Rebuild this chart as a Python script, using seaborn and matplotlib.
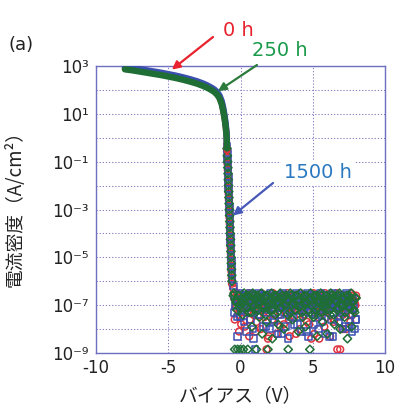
import numpy as np
import pandas as pd
import matplotlib
matplotlib.use("Agg")
import matplotlib.pyplot as plt
from matplotlib.ticker import FixedLocator, FuncFormatter, NullFormatter
import seaborn as sns

# ---------------- data (log10 of current density, A/cm^2) ----------------
SERIES = ["0 h", "250 h", "1500 h"]

X_CURVE = [-8.0, -7.5, -7.0, -6.5, -6.0, -5.5, -5.0, -4.5, -4.0, -3.5,
           -3.0, -2.6, -2.3, -2.0, -1.8, -1.6, -1.45, -1.3, -1.2, -1.1,
           -1.02, -0.96,
           -0.93, -0.91, -0.89, -0.875, -0.86, -0.845, -0.83, -0.815, -0.80, -0.785,
           -0.77, -0.755, -0.74, -0.725, -0.71, -0.695, -0.68, -0.665, -0.65, -0.635,
           -0.62, -0.605, -0.59]
N_SMOOTH = 23  # points drawn as the continuous band

LOGJ_CURVE_0H = [2.90, 2.86, 2.81, 2.76, 2.71, 2.66, 2.60, 2.54, 2.47, 2.39,
                 2.30, 2.21, 2.13, 2.03, 1.95, 1.83, 1.69, 1.45, 1.17, 0.83,
                 0.47, 0.07,
                 -0.55, -0.85, -1.1, -1.35, -1.6, -1.85, -2.1, -2.35, -2.6, -2.85,
                 -3.1, -3.35, -3.6, -3.85, -4.1, -4.35, -4.6, -4.85, -5.1, -5.35,
                 -5.6, -5.85, -6.1]
LOGJ_CURVE_250H = [2.86, 2.82, 2.77, 2.72, 2.67, 2.62, 2.56, 2.50, 2.43, 2.35,
                   2.26, 2.17, 2.09, 1.99, 1.91, 1.79, 1.65, 1.41, 1.13, 0.79,
                   0.43, 0.03,
                   -0.45, -0.75, -1.0, -1.25, -1.5, -1.75, -2.0, -2.25, -2.5, -2.75,
                   -3.0, -3.25, -3.5, -3.75, -4.0, -4.25, -4.5, -4.75, -5.0, -5.25,
                   -5.5, -5.75, -6.0]
LOGJ_CURVE_1500H = [2.95, 2.91, 2.87, 2.82, 2.77, 2.72, 2.66, 2.60, 2.53, 2.45,
                    2.36, 2.27, 2.19, 2.09, 2.01, 1.90, 1.76, 1.53, 1.26, 0.92,
                    0.56, 0.16,
                    -0.35, -0.65, -0.9, -1.15, -1.4, -1.65, -1.9, -2.15, -2.4, -2.65,
                    -2.9, -3.15, -3.4, -3.65, -3.9, -4.15, -4.4, -4.65, -4.9, -5.15,
                    -5.4, -5.65, -5.9]

# noise floor, sweep A (whole tenths of a volt)
X_FLOOR_A = [-0.5, -0.4, -0.3, -0.2, -0.1, 0.0, 0.1, 0.2, 0.3, 0.4,
             0.5, 0.6, 0.7, 0.8, 0.9, 1.0, 1.1, 1.2, 1.3, 1.4,
             1.5, 1.6, 1.7, 1.8, 1.9, 2.0, 2.1, 2.2, 2.3, 2.4,
             2.5, 2.6, 2.7, 2.8, 2.9, 3.0, 3.1, 3.2, 3.3, 3.4,
             3.5, 3.6, 3.7, 3.8, 3.9, 4.0, 4.1, 4.2, 4.3, 4.4,
             4.5, 4.6, 4.7, 4.8, 4.9, 5.0, 5.1, 5.2, 5.3, 5.4,
             5.5, 5.6, 5.7, 5.8, 5.9, 6.0, 6.1, 6.2, 6.3, 6.4,
             6.5, 6.6, 6.7, 6.8, 6.9, 7.0, 7.1, 7.2, 7.3, 7.4,
             7.5, 7.6, 7.7, 7.8, 7.9, 8.0]

LOGJ_FLOOR_A_0H = [-6.3, -7.6, -7.0, -6.7, -8.1, -6.9, -7.3, -6.6, -7.9, -7.1,
                   -6.7, -8.3, -7.0, -6.6, -7.4, -6.8, -7.7, -6.6, -7.2, -8.0,
                   -6.9, -7.3, -6.6, -8.85, -8.4, -7.0, -6.7, -7.6, -7.1, -6.6,
                   -8.2, -6.9, -7.4, -6.7, -7.1, -7.8, -6.6, -7.3, -6.9, -8.3,
                   -7.0, -6.7, -7.5, -6.6, -7.2, -6.8, -8.0, -7.1, -6.6, -7.4,
                   -6.9, -7.7, -6.7, -7.0, -8.4, -6.8, -8.2, -7.2, -6.6, -7.5,
                   -6.9, -7.1, -6.7, -7.9, -6.6, -7.3, -6.8, -8.3, -7.0, -6.6,
                   -7.6, -6.9, -8.85, -7.2, -8.85, -6.7, -7.4, -6.6, -8.0, -7.1,
                   -6.8, -7.7, -6.6, -7.2, -6.9, -6.6]
LOGJ_FLOOR_A_250H = [-6.6, -8.85, -6.9, -8.85, -7.1, -8.85, -6.7, -8.85, -7.0, -6.6,
                     -8.85, -7.3, -6.8, -7.9, -6.6, -7.2, -8.85, -6.9, -7.5, -6.7,
                     -8.2, -7.0, -6.6, -7.7, -8.85, -6.8, -7.2, -8.4, -6.6, -7.4,
                     -6.9, -7.8, -6.7, -7.1, -6.6, -8.0, -7.0, -6.8, -8.85, -7.3,
                     -6.6, -7.6, -6.9, -7.2, -6.6, -8.1, -6.8, -7.0, -7.5, -6.6,
                     -7.9, -6.9, -7.2, -8.85, -6.7, -7.4, -6.6, -7.0, -8.3, -6.8,
                     -7.3, -6.6, -7.7, -6.9, -7.1, -8.2, -6.7, -7.4, -6.6, -7.0,
                     -7.8, -6.8, -7.2, -6.6, -8.0, -7.0, -6.7, -7.5, -6.9, -8.4,
                     -6.6, -7.1, -7.9, -6.8, -7.3, -6.7]
LOGJ_FLOOR_A_1500H = [-6.2, -7.3, -6.8, -8.3, -6.6, -7.5, -6.9, -7.1, -6.6, -8.1,
                      -7.0, -6.7, -7.6, -6.6, -8.4, -8.85, -7.2, -6.8, -7.4, -6.6,
                      -7.0, -7.9, -6.7, -7.3, -6.6, -8.0, -6.9, -7.1, -7.7, -6.6,
                      -7.0, -8.2, -6.8, -7.4, -6.6, -7.1, -7.9, -6.7, -8.4, -6.9,
                      -7.2, -6.6, -7.8, -6.8, -7.0, -6.6, -7.5, -8.1, -6.9, -7.2,
                      -6.6, -7.0, -8.3, -6.7, -7.3, -6.6, -7.8, -6.9, -7.1, -8.0,
                      -6.7, -7.4, -6.6, -7.0, -8.2, -6.8, -7.2, -6.6, -7.6, -8.3,
                      -6.9, -7.1, -6.6, -7.7, -6.8, -7.3, -8.0, -6.6, -7.0, -6.7,
                      -7.9, -6.9, -8.1, -7.2, -8.0, -7.6]

# noise floor, sweep B (half-step voltages)
X_FLOOR_B = [-0.45, -0.35, -0.25, -0.15, -0.05, 0.05, 0.15, 0.25, 0.35, 0.45,
             0.55, 0.65, 0.75, 0.85, 0.95, 1.05, 1.15, 1.25, 1.35, 1.45,
             1.55, 1.65, 1.75, 1.85, 1.95, 2.05, 2.15, 2.25, 2.35, 2.45,
             2.55, 2.65, 2.75, 2.85, 2.95, 3.05, 3.15, 3.25, 3.35, 3.45,
             3.55, 3.65, 3.75, 3.85, 3.95, 4.05, 4.15, 4.25, 4.35, 4.45,
             4.55, 4.65, 4.75, 4.85, 4.95, 5.05, 5.15, 5.25, 5.35, 5.45,
             5.55, 5.65, 5.75, 5.85, 5.95, 6.05, 6.15, 6.25, 6.35, 6.45,
             6.55, 6.65, 6.75, 6.85, 6.95, 7.05, 7.15, 7.25, 7.35, 7.45,
             7.55, 7.65, 7.75, 7.85, 7.95]

LOGJ_FLOOR_B_0H = [-6.7, -7.1, -6.5, -7.4, -6.9, -7.8, -6.6, -7.0, -6.8, -7.3,
                   -6.5, -7.6, -6.9, -7.1, -6.6, -8.1, -7.0, -6.7, -7.2, -6.5,
                   -6.9, -7.5, -6.6, -7.0, -8.3, -6.8, -7.2, -6.5, -7.4, -6.9,
                   -6.7, -7.1, -7.9, -6.6, -7.0, -6.8, -7.3, -6.5, -7.6, -6.9,
                   -7.1, -6.6, -7.0, -8.2, -6.8, -7.2, -6.5, -6.9, -7.4, -6.7,
                   -7.0, -6.6, -7.8, -6.9, -7.1, -6.5, -7.3, -6.8, -7.0, -8.4,
                   -6.6, -7.2, -6.9, -6.5, -7.5, -7.0, -6.7, -7.1, -6.6, -7.7,
                   -6.9, -6.5, -7.2, -6.8, -7.0, -8.0, -6.6, -7.3, -6.9, -6.7,
                   -7.1, -6.5, -7.4, -6.8, -7.0]
LOGJ_FLOOR_B_250H = [-6.5, -6.8, -7.2, -6.6, -7.0, -6.9, -7.4, -6.5, -6.7, -7.1,
                     -6.6, -6.9, -7.3, -6.5, -7.0, -6.8, -6.6, -7.2, -6.9, -6.5,
                     -7.1, -6.7, -7.4, -6.6, -6.9, -7.0, -6.5, -7.2, -6.8, -6.6,
                     -7.3, -6.9, -6.5, -7.1, -6.7, -7.0, -6.6, -7.4, -6.8, -6.5,
                     -7.0, -6.9, -7.2, -6.6, -6.8, -7.1, -6.5, -7.3, -6.7, -6.9,
                     -6.6, -7.2, -6.8, -6.5, -7.0, -7.5, -6.7, -6.6, -7.1, -6.9,
                     -6.5, -7.3, -6.8, -7.0, -6.6, -6.9, -7.2, -6.5, -6.7, -7.4,
                     -6.8, -6.6, -7.1, -6.5, -6.9, -7.0, -6.7, -7.3, -6.6, -6.8,
                     -7.1, -6.5, -6.9, -7.2, -6.7]
LOGJ_FLOOR_B_1500H = [-6.6, -7.0, -7.5, -6.8, -6.5, -7.2, -6.9, -7.7, -6.6, -7.1,
                      -6.8, -6.5, -7.3, -8.0, -6.9, -6.7, -7.1, -6.5, -7.4, -6.8,
                      -7.0, -6.6, -7.9, -6.9, -7.2, -6.5, -7.0, -6.7, -7.6, -6.8,
                      -6.6, -7.1, -6.9, -8.2, -6.5, -7.3, -6.8, -7.0, -6.6, -7.5,
                      -6.9, -6.7, -7.2, -6.5, -7.8, -7.0, -6.8, -6.6, -7.1, -6.9,
                      -8.1, -6.5, -7.3, -6.7, -7.0, -6.9, -7.4, -6.6, -6.8, -7.2,
                      -6.5, -7.7, -7.0, -6.9, -6.6, -7.1, -8.3, -6.8, -6.5, -7.3,
                      -6.9, -7.0, -6.7, -7.5, -6.6, -7.2, -6.8, -7.9, -6.5, -7.0,
                      -6.9, -7.4, -6.7, -7.1, -7.6]

X_TICKS = [-10, -5, 0, 5, 10]
Y_TICK_EXP = [3, 1, -1, -3, -5, -7, -9]
Y_MINOR_EXP = [2, 0, -2, -4, -6, -8]

# ---------------- style ----------------
sns.set_theme(style="white")
plt.rcParams["font.family"] = ["Noto Sans CJK JP", "DejaVu Sans"]

COLORS = {"0 h": "#e0323c", "250 h": "#1e6e36", "1500 h": "#3a4fb0"}
MARKERS = {"0 h": "o", "250 h": "D", "1500 h": "s"}
MSIZE = {"0 h": 24, "250 h": 18, "1500 h": 22}

curve = {"0 h": LOGJ_CURVE_0H, "250 h": LOGJ_CURVE_250H, "1500 h": LOGJ_CURVE_1500H}
floor_a = {"0 h": LOGJ_FLOOR_A_0H, "250 h": LOGJ_FLOOR_A_250H, "1500 h": LOGJ_FLOOR_A_1500H}
floor_b = {"0 h": LOGJ_FLOOR_B_0H, "250 h": LOGJ_FLOOR_B_250H, "1500 h": LOGJ_FLOOR_B_1500H}

fig = plt.figure(figsize=(3.96, 4.09), dpi=100)
fig.patch.set_facecolor("white")
ax = fig.add_axes([96 / 396, 1 - 353 / 409, 289 / 396, 287 / 409])

order = ["0 h", "1500 h", "250 h"]
for s in order:
    c = COLORS[s]
    xc = X_CURVE
    yc = list(np.power(10.0, curve[s]))
    band = pd.DataFrame({"x": xc[:N_SMOOTH], "y": yc[:N_SMOOTH]})
    pts = pd.DataFrame({"x": xc[N_SMOOTH - 1:] + X_FLOOR_A + X_FLOOR_B,
                        "y": yc[N_SMOOTH - 1:]
                        + list(np.power(10.0, floor_a[s]))
                        + list(np.power(10.0, floor_b[s]))})
    sns.scatterplot(data=pts, x="x", y="y", ax=ax, marker=MARKERS[s], s=MSIZE[s],
                    facecolor="none", edgecolor=c, linewidth=1.1, zorder=3)
    sns.lineplot(data=band, x="x", y="y", ax=ax, color=c, lw=4.6, sort=False,
                 estimator=None, zorder=4, solid_capstyle="round")

ax.set_yscale("log")
ax.set_xlim(-10, 10)
ax.set_ylim(1e-9, 1e3)

ax.xaxis.set_major_locator(FixedLocator(X_TICKS))
ax.xaxis.set_major_formatter(FuncFormatter(lambda v, p: f"{int(v)}"))
ax.yaxis.set_major_locator(FixedLocator([10.0 ** e for e in Y_TICK_EXP]))
ax.yaxis.set_minor_locator(FixedLocator([10.0 ** e for e in Y_MINOR_EXP]))
ax.yaxis.set_minor_formatter(NullFormatter())

SUP = str.maketrans("-0123456789", "⁻⁰¹²³⁴⁵⁶⁷⁸⁹")


def yfmt(v, p):
    e = int(round(np.log10(v)))
    return "10" + str(e).translate(SUP)


ax.yaxis.set_major_formatter(FuncFormatter(yfmt))

ax.tick_params(axis="both", which="both", length=0, labelsize=12, colors="#222222")
ax.tick_params(axis="x", pad=4)
ax.tick_params(axis="y", pad=5)
for lab in ax.get_yticklabels() + ax.get_xticklabels():
    lab.set_family(["DejaVu Sans"])

grid_c = "#8c7cc4"
ax.grid(True, which="both", axis="y", color=grid_c, linestyle=(0, (1.2, 1.8)), lw=0.75)
ax.grid(True, which="major", axis="x", color=grid_c, linestyle=(0, (1.2, 1.8)), lw=0.75)
ax.set_axisbelow(True)
for sp in ax.spines.values():
    sp.set_color("#6f6fc2")
    sp.set_linewidth(1.0)

ax.set_xlabel("バイアス（V）", fontsize=13.5, labelpad=6, color="#222222")
ax.set_ylabel("電流密度（A/cm²）", fontsize=13.5, labelpad=4, color="#222222")
ax.yaxis.set_label_coords(-0.245, 0.52)

fig.text(21 / 396, 1 - 45 / 409, "(a)", fontsize=13, ha="center", va="center",
         color="#222222", family=["DejaVu Sans"])

# annotations
fig.text(238 / 396, 1 - 30 / 409, "0 h", fontsize=14, ha="center", va="center",
         color="#e8222e", family=["DejaVu Sans"])
fig.text(280 / 396, 1 - 50 / 409, "250 h", fontsize=14, ha="center", va="center",
         color="#1a9a4a", family=["DejaVu Sans"])
fig.text(318 / 396, 1 - 173 / 409, "1500 h", fontsize=14, ha="center", va="center",
         color="#2a78c0", family=["DejaVu Sans"],
         bbox=dict(boxstyle="square,pad=0.15", fc="white", ec="none"))

ax.annotate("", xy=(-4.75, 10 ** 2.85), xycoords="data",
            xytext=(213 / 396, 1 - 37 / 409), textcoords="figure fraction",
            arrowprops=dict(arrowstyle="-|>", color="#e8222e", lw=1.6,
                            mutation_scale=12, shrinkA=0, shrinkB=0),
            annotation_clip=False, zorder=6)
ax.annotate("", xy=(-1.56, 10 ** 1.95), xycoords="data",
            xytext=(257 / 396, 1 - 65 / 409), textcoords="figure fraction",
            arrowprops=dict(arrowstyle="-|>", color="#2c7a3c", lw=1.6,
                            mutation_scale=12, shrinkA=0, shrinkB=0),
            annotation_clip=False, zorder=6)
ax.annotate("", xy=(-0.52, 10 ** -3.25), xycoords="data",
            xytext=(273 / 396, 1 - 183 / 409), textcoords="figure fraction",
            arrowprops=dict(arrowstyle="-|>", color="#4658b8", lw=1.6,
                            mutation_scale=12, shrinkA=0, shrinkB=0),
            annotation_clip=False, zorder=6)

fig.savefig("out.png", dpi=100, facecolor="white")
